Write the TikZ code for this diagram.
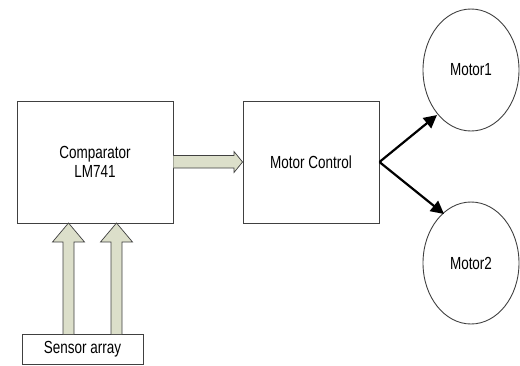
\documentclass[tikz,border=0pt]{standalone}
\usepackage{fontspec}
\setmainfont{Liberation Sans}
\newfontfamily\narrowfont[FakeStretch=0.77]{Liberation Sans}
\usetikzlibrary{arrows.meta}
\definecolor{fatfill}{HTML}{DCDFCA}
\definecolor{boxline}{HTML}{404040}
\tikzset{
  blockbox/.style={draw=boxline, line width=0.9pt, fill=white, inner sep=0pt, font=\narrowfont\fontsize{17.5}{19.5}\selectfont, align=center},
  motorell/.style={draw=boxline, line width=0.9pt, ellipse, inner sep=0pt, font=\narrowfont\fontsize{17.5}{19.5}\selectfont},
  fatarrow/.style={draw=boxline, line width=0.7pt, fill=fatfill, line join=miter},
  blackarrow/.style={draw=black, line width=2.2pt, -{Triangle[length=13pt,width=13pt]}}
}
\usetikzlibrary{shapes.geometric}
\begin{document}
\begin{tikzpicture}[x=1pt,y=-1pt]
\useasboundingbox (0,0) rectangle (520,365);
% boxes
\node[blockbox, minimum width=156pt, minimum height=122pt] (comp) at (95,162) {Comparator\\LM741};
\node[blockbox, minimum width=136pt, minimum height=122pt] (mc) at (311,162) {Motor Control};
\node[blockbox, minimum width=121pt, minimum height=30pt] (sensor) at (82.5,349) {Sensor array};
\node[motorell, minimum width=96pt, minimum height=122pt] (m1) at (471,70) {Motor1};
\node[motorell, minimum width=96pt, minimum height=122pt] (m2) at (471,263) {Motor2};
% fat horizontal arrow
\draw[fatarrow] (comp.east |- 0,155.5) -- (234,155.5) -- (234,151.5) -- (mc.west |- 0,162) -- (234,172.5) -- (234,168) -- (comp.east |- 0,168) ;
% fat vertical arrows
\coordinate (a1) at (68.5,223);
\coordinate (a2) at (116.5,223);
\foreach \c/\n in {68.5/a1,116.5/a2}{
  \draw[fatarrow] (\c-5.5,334) -- (\c-5.5,242) -- (\c-16,242) -- (\n) -- (\c+16,242) -- (\c+5.5,242) -- (\c+5.5,334);
}
% black arrows
\draw[blackarrow] (mc.east) -- (437,115);
\draw[blackarrow] (mc.east) -- (444,214);
\end{tikzpicture}
\end{document}
